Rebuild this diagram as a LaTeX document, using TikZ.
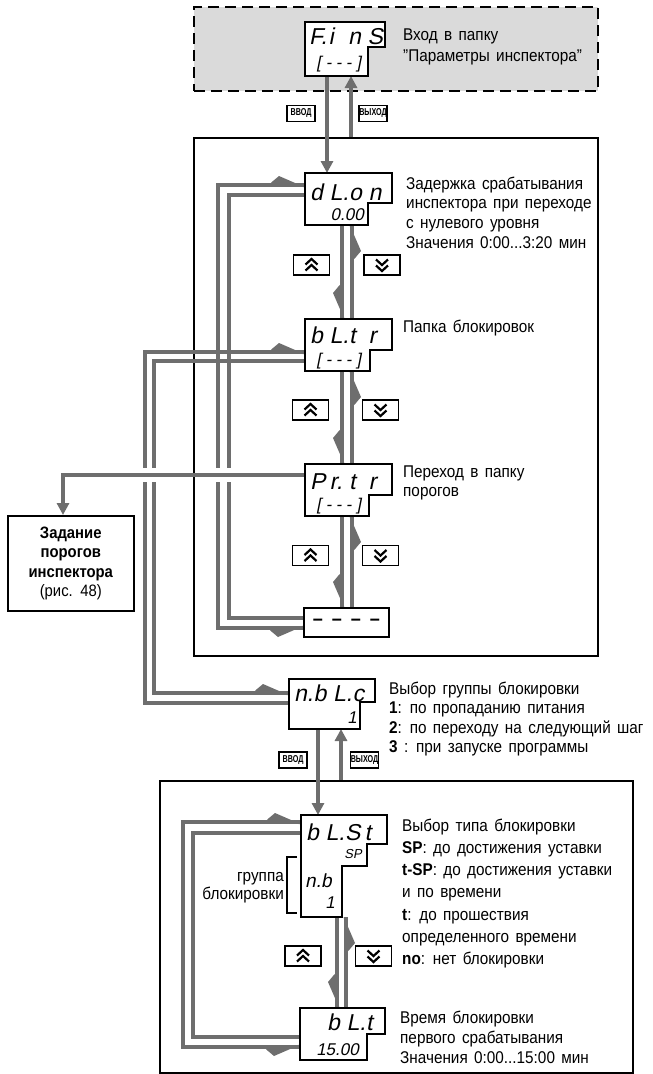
\documentclass[tikz,border=0pt]{standalone}
\usepackage{fontspec}
\setmainfont{Liberation Sans}[FakeStretch=0.9,WordSpace=1.5]
\newfontfamily\segf{Liberation Sans}[FakeSlant=0.2]
\newfontfamily\lblf{Liberation Sans}[FakeStretch=0.72]
\usetikzlibrary{arrows.meta,calc}
\definecolor{gline}{RGB}{110,110,110}
\definecolor{gfill}{RGB}{218,218,218}
\pgfdeclarelayer{back}
\pgfdeclarelayer{bg}
\pgfsetlayers{back,bg,main}
\tikzset{
  conn/.style={draw=gline, line width=4.5pt},
  arr/.style={-{Triangle[length=12pt,width=12pt]}},
  frame/.style={draw=black, line width=1.6pt, inner sep=0pt},
  dbox/.style={draw=black, fill=gfill, line width=2pt, dash pattern=on 11pt off 6pt, inner sep=0pt},
  disp/.style={draw=black, line width=1.5pt, fill=white},
  btn/.style={draw=black, line width=1.3pt, minimum width=36pt, minimum height=20pt, inner sep=0pt, fill=white},
  chev/.style={draw=black, line width=2.2pt, miter limit=10},
  keylbl/.style={draw=black, line width=1.1pt, minimum width=28pt, minimum height=16pt, inner sep=0pt, fill=white, font=\lblf\bfseries\fontsize{10}{10}\selectfont},
  txt/.style={anchor=north west, inner sep=0pt, align=left},
  seg/.style={inner sep=0pt, font=\segf\fontsize{23}{23}\selectfont},
  segs/.style={inner sep=0pt, font=\segf\fontsize{17}{17}\selectfont},
}
\newcommand\sg[1]{\makebox[19.5pt][l]{#1}}
\newcommand\sgs[1]{\makebox[10pt][c]{#1}}
\newcommand\dispnode[7]{%
  \node[name=#1, anchor=north west, inner sep=0pt, outer sep=0pt,
        minimum width={(#4-#2)*1pt}, minimum height={(#7-#3)*1pt}] at (#2,#3) {};}
\newcommand\dispdraw[6]{%
  \draw[disp] (#1,#2) -| (#3,#4) -| (#5,#6) -| (#1,#2) -- cycle;}
% barbs (y axis points down)
\newcommand\barbS[1]{\fill[gline] ($(#1)+(-2.3,-34)$) -- ($(#1)+(-9,-26)$) -- ($(#1)+(2.3,0)$) -- cycle;}
\newcommand\barbN[1]{\fill[gline] ($(#1)+(2.3,34)$) -- ($(#1)+(9,26)$) -- ($(#1)+(-2.3,0)$) -- cycle;}
\newcommand\barbEu[1]{\fill[gline] ($(#1)+(-34,-2.3)$) -- ($(#1)+(-26,-9)$) -- ($(#1)+(0,2.3)$) -- cycle;}
\newcommand\barbEd[1]{\fill[gline] ($(#1)+(-34,2.3)$) -- ($(#1)+(-26,9)$) -- ($(#1)+(0,-2.3)$) -- cycle;}
\newcommand\btnup[3]{%
  \node[btn] (#1) at (#2,#3) {};
  \draw[chev] ([shift={(-6,-0.5)}]#1.center) -- ([shift={(0,-6)}]#1.center) -- ([shift={(6,-0.5)}]#1.center);
  \draw[chev] ([shift={(-6,5.5)}]#1.center) -- ([shift={(0,0)}]#1.center) -- ([shift={(6,5.5)}]#1.center);}
\newcommand\btndown[3]{%
  \node[btn] (#1) at (#2,#3) {};
  \draw[chev] ([shift={(-6,0.5)}]#1.center) -- ([shift={(0,6)}]#1.center) -- ([shift={(6,0.5)}]#1.center);
  \draw[chev] ([shift={(-6,-5.5)}]#1.center) -- ([shift={(0,0)}]#1.center) -- ([shift={(6,-5.5)}]#1.center);}

\begin{document}
\begin{tikzpicture}[x=1pt,y=-1pt,line join=miter]
\useasboundingbox (0,0) rectangle (653,1074);

% ---------- frames ----------
\begin{pgfonlayer}{back}
\node[dbox, anchor=north west, minimum width=404pt, minimum height=84pt] (top) at (193,6) {};
\node[frame, anchor=north west, minimum width=404pt, minimum height=518pt] (box1) at (193,137) {};
\node[frame, anchor=north west, minimum width=473pt, minimum height=292pt] (box2) at (159,780) {};
\node[frame, anchor=north west, minimum width=126pt, minimum height=95pt, align=center,
      font=\fontsize{16.5}{19.5}\selectfont] (zad) at (7,515)
      {\textbf{Задание}\\\textbf{порогов}\\\textbf{инспектора}\\(рис. 48)};
\end{pgfonlayer}

% ---------- display nodes ----------
\dispnode{fins}{305}{22}{385}{47}{368}{76}
\dispnode{dlon}{305}{173}{392}{203}{368}{225}
\dispnode{bltr}{305}{319}{392}{350}{370}{371}
\dispnode{prtr}{305}{464}{392}{495}{369}{516}
\dispnode{endd}{304}{608}{389}{608}{389}{637}
\dispnode{nblc}{289}{679}{375}{702}{360}{729}
\dispnode{blst}{301}{815}{387}{844}{342}{917}
\dispnode{blt}{300}{1008}{385}{1034}{367}{1060}

% ---------- connectors ----------
\begin{pgfonlayer}{bg}
% loop dL.on / ----
\coordinate (la1) at ([yshift=-12pt]dlon.north west);
\coordinate (lb1) at ([yshift=-20pt]endd.north west);
\draw[conn] (la1) -| (218,400) |- (lb1);
\barbEu{la1} \barbEd{lb1}
\coordinate (la2) at ([yshift=-22pt]dlon.north west);
\coordinate (lb2) at ([yshift=-10pt]endd.north west);
\draw[conn] (la2) -| (229,400) |- (lb2);
% loop bL.tr / n.bL.c
\coordinate (lc1) at ([yshift=-33pt]bltr.north west);
\coordinate (ld1) at ([yshift=-24pt]nblc.north west);
\draw[conn] (lc1) -| (145,500) |- (ld1);
\barbEu{lc1}
\coordinate (lc2) at ([yshift=-42pt]bltr.north west);
\coordinate (ld2) at ([yshift=-14pt]nblc.north west);
\draw[conn] (lc2) -| (154,500) |- (ld2);
\barbEu{ld2}
% Pr.tr -> Задание (with gaps in the crossed lines)
\coordinate (p1) at ([yshift=-11pt]prtr.north west);
\coordinate (p2) at ([xshift=56pt]zad.north west);
\draw[white, line width=14pt] (p1 -| 138,0) -- (p1 -| 161,0);
\draw[white, line width=14pt] (p1 -| 211,0) -- (p1 -| 236,0);
\draw[conn,arr] (p1) -| (p2);
% top enter / exit
\coordinate (f1) at ([xshift=22pt]fins.south west);
\coordinate (f2) at ([xshift=46pt]fins.south west);
\draw[conn,arr] (f1) -- (f1 |- dlon.north);
\draw[conn,arr] (f2 |- box1.north) -- (f2);
% dL.on <-> bL.tr
\coordinate (d1) at ([xshift=37pt]dlon.south west);
\coordinate (d2) at (d1 |- bltr.north);
\draw[conn] (d1) -- (d2); \barbS{d2}
\coordinate (u1) at ([xshift=47pt]bltr.north west);
\coordinate (u2) at (u1 |- dlon.south);
\draw[conn] (u1) -- (u2); \barbN{u2}
% bL.tr <-> Pr.tr
\coordinate (d3) at ([xshift=37pt]bltr.south west);
\coordinate (d4) at (d3 |- prtr.north);
\draw[conn] (d3) -- (d4); \barbS{d4}
\coordinate (u3) at ([xshift=47pt]prtr.north west);
\coordinate (u4) at (u3 |- bltr.south);
\draw[conn] (u3) -- (u4); \barbN{u4}
% Pr.tr <-> ----
\coordinate (d5) at ([xshift=37pt]prtr.south west);
\coordinate (d6) at (d5 |- endd.north);
\draw[conn] (d5) -- (d6); \barbS{d6}
\coordinate (u5) at ([xshift=47pt]prtr.south west |- endd.north);
\coordinate (u6) at (u5 |- prtr.south);
\draw[conn] (u5) -- (u6); \barbN{u6}
% n.bL.c enter / exit
\coordinate (n1) at ([xshift=29pt]nblc.south west);
\coordinate (n2) at ([xshift=52pt]nblc.south west);
\draw[conn,arr] (n1) -- (n1 |- blst.north);
\draw[conn,arr] (n2 |- box2.north) -- (n2);
% bL.St <-> bL.t
\coordinate (s1) at ([xshift=36pt]blst.south west);
\coordinate (s2) at (s1 |- blt.north);
\draw[conn] (s1) -- (s2); \barbS{s2}
\coordinate (t1) at ([xshift=46pt]blt.north west);
\coordinate (t2) at (t1 |- blst.south);
\draw[conn] (t1) -- (t2); \barbN{t2}
% loop bL.St / bL.t
\coordinate (le1) at ([yshift=-7pt]blst.north west);
\coordinate (lf1) at ([yshift=-39pt]blt.north west);
\draw[conn] (le1) -| (183,900) |- (lf1);
\barbEu{le1} \barbEd{lf1}
\coordinate (le2) at ([yshift=-18pt]blst.north west);
\coordinate (lf2) at ([yshift=-29pt]blt.north west);
\draw[conn] (le2) -| (193,900) |- (lf2);
\end{pgfonlayer}

% ---------- displays ----------
\dispdraw{305}{22}{385}{47}{368}{76}
\dispdraw{305}{173}{392}{203}{368}{225}
\dispdraw{305}{319}{392}{350}{370}{371}
\dispdraw{305}{464}{392}{495}{369}{516}
\draw[disp] (endd.north west) rectangle (endd.south east);
\dispdraw{289}{679}{375}{702}{360}{729}
\draw[disp] (301,815) -| (387,844) -| (367,866) -| (342,917) -| (301,815) -- cycle;
\dispdraw{300}{1008}{385}{1034}{367}{1060}

\node[seg, anchor=base west] (fins-a) at (309,44) {\sg{F.}\sg{i}\sg{n}\sg{S}};
\node[segs, anchor=base east] (fins-b) at (364,68) {\sgs{[}\sgs{-}\sgs{-}\sgs{-}\sgs{]}};
\node[seg, anchor=base west] (dlon-a) at (310,200) {\sg{d}\sg{L.}\sg{o}\sg{n}};
\node[segs, anchor=base east] (dlon-b) at (364,220) {0.00};
\node[seg, anchor=base west] (bltr-a) at (310,343) {\sg{b}\sg{L.}\sg{t}\sg{r}};
\node[segs, anchor=base east] (bltr-b) at (364,365) {\sgs{[}\sgs{-}\sgs{-}\sgs{-}\sgs{]}};
\node[seg, anchor=base west] (prtr-a) at (310,489) {\sg{P}\sg{r.}\sg{t}\sg{r}};
\node[segs, anchor=base east] (prtr-b) at (364,510) {\sgs{[}\sgs{-}\sgs{-}\sgs{-}\sgs{]}};
\node[inner sep=0pt, font=\bfseries\fontsize{20}{20}\selectfont] (endd-a) at (endd.center)
     {\makebox[19pt]{–}\makebox[19pt]{–}\makebox[19pt]{–}\makebox[19pt]{–}};
\node[seg, anchor=base west] (nblc-a) at (294,701) {\sg{n.}\sg{b}\sg{L.}\sg{c}};
\node[segs, anchor=base east] (nblc-b) at (357,723) {1};
\node[seg, anchor=base west] (blst-a) at (306,840) {\sg{b}\sg{L.}\sg{S}\sg{t}};
\node[inner sep=0pt, font=\segf\fontsize{13}{13}\selectfont, anchor=base east] (blst-b) at (362,858) {SP};
\node[inner sep=0pt, font=\segf\fontsize{19}{19}\selectfont, anchor=base west] (blst-c) at (305,887) {n.b};
\node[segs, anchor=base east] (blst-d) at (335,908) {1};
\node[seg, anchor=base west] (blt-a) at (327,1030) {\sg{b}\sg{L.}\sg{t}};
\node[segs, anchor=base east] (blt-b) at (359,1055) {15.00};

% ---------- buttons ----------
\btnup{b1u}{311.5}{265} \btndown{b1d}{382}{265}
\btnup{b2u}{310.5}{410} \btndown{b2d}{380.5}{410}
\btnup{b3u}{310.5}{555.5} \btndown{b3d}{380.5}{555.5}
\btnup{b4u}{303}{956} \btndown{b4d}{373.5}{956}

% ---------- key labels ----------
\node[keylbl] (k1) at (301,113.5) {ВВОД};
\node[keylbl] (k2) at (373,113.5) {ВЫХОД};
\node[keylbl] (k3) at (293,760) {ВВОД};
\node[keylbl] (k4) at (364.5,760) {ВЫХОД};

% ---------- bracket ----------
\draw[black, line width=1.2pt] (297,857) -| (287,913) -- (297,913);
\node[anchor=north east, inner sep=0pt, align=right, font=\fontsize{17}{18}\selectfont] (grp) at (284,868)
  {\rule{0pt}{13pt}группа\\блокировки};

% ---------- descriptions ----------
\node[txt, font=\fontsize{17}{21}\selectfont] (t-top) at (403,27)
  {\rule{0pt}{13pt}Вход в папку\\"Параметры инспектора"};
\node[txt, font=\fontsize{17}{19.7}\selectfont] (t-dlon) at (406,176)
  {\rule{0pt}{13pt}Задержка срабатывания\\инспектора при переходе\\с нулевого уровня\\Значения 0:00...3:20 мин};
\node[txt, font=\fontsize{17}{19.7}\selectfont] (t-bltr) at (403,319)
  {\rule{0pt}{13pt}Папка блокировок};
\node[txt, font=\fontsize{17}{19}\selectfont] (t-prtr) at (403,464)
  {\rule{0pt}{13pt}Переход в папку\\порогов};
\node[txt, font=\fontsize{17}{19.5}\selectfont] (t-nblc) at (389,681)
  {\rule{0pt}{13pt}Выбор группы блокировки\\\textbf{1}: по пропаданию питания\\\textbf{2}: по переходу на следующий шаг\\\textbf{3} : при запуске программы};
\node[txt, font=\fontsize{17}{22.2}\selectfont] (t-blst) at (402,818)
  {\rule{0pt}{13pt}Выбор типа блокировки\\\textbf{SP}: до достижения уставки\\\textbf{t-SP}: до достижения уставки\\и по времени\\\textbf{t}: до прошествия\\определенного времени\\\textbf{no}: нет блокировки};
\node[txt, font=\fontsize{17}{20}\selectfont] (t-blt) at (400,1010)
  {\rule{0pt}{13pt}Время блокировки\\первого срабатывания\\Значения 0:00...15:00 мин};
\end{tikzpicture}
\end{document}
